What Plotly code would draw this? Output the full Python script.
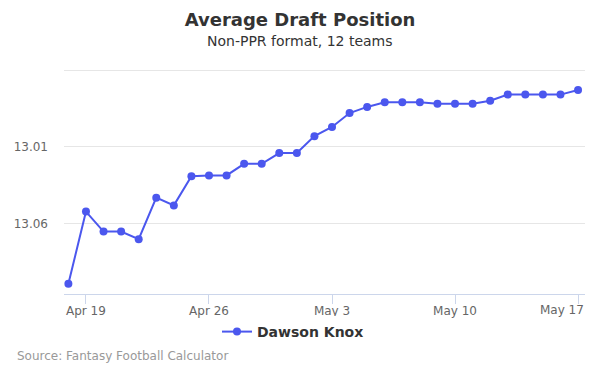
import plotly.graph_objects as go

dates = ["2019-04-18", "2019-04-19", "2019-04-20", "2019-04-21", "2019-04-22", "2019-04-23",
         "2019-04-24", "2019-04-25", "2019-04-26", "2019-04-27", "2019-04-28", "2019-04-29",
         "2019-04-30", "2019-05-01", "2019-05-02", "2019-05-03", "2019-05-04", "2019-05-05",
         "2019-05-06", "2019-05-07", "2019-05-08", "2019-05-09", "2019-05-10", "2019-05-11",
         "2019-05-12", "2019-05-13", "2019-05-14", "2019-05-15", "2019-05-16", "2019-05-17"]
adp = [13.099, 13.052, 13.065, 13.065, 13.070, 13.043,
       13.048, 13.029, 13.0285, 13.0285, 13.021, 13.021,
       13.014, 13.014, 13.003, 12.997, 12.988, 12.984,
       12.981, 12.981, 12.981, 12.982, 12.982, 12.982,
       12.980, 12.976, 12.976, 12.976, 12.976, 12.973]
player = "Dawson Knox"
y_tick_vals = [12.96, 13.01, 13.06]
y_tick_text = ["", "13.01", "13.06"]
x_tick_vals = ["2019-04-19", "2019-04-26", "2019-05-03", "2019-05-10", "2019-05-17"]
x_tick_text = ["Apr 19", "Apr 26", "May 3", "May 10", "May 17"]

color = "#4b57ee"
font = "DejaVu Sans"

L, R, T, B = 64, 15, 68, 81
PW, PH = 600 - L - R, 375 - T - B


def px_x(px):
    return (px - L) / PW


def px_y(py):
    return (375 - B - py) / PH


# last tick label is drawn as an annotation so it can be pulled inside the edge
shown_ticktext = x_tick_text[:-1] + [""]

fig = go.Figure()
fig.add_trace(go.Scatter(
    x=dates, y=adp, mode="lines+markers", name="<b>" + player + "</b>",
    line=dict(color=color, width=2),
    marker=dict(color=color, size=8),
))

fig.update_layout(
    width=600, height=375,
    margin=dict(l=L, r=R, t=T, b=B, autoexpand=False),
    paper_bgcolor="white", plot_bgcolor="white",
    font=dict(family=font, color="#666666", size=12),
    title=dict(text="<b>Average Draft Position</b>", x=0.5, xanchor="center",
               y=1 - 20 / 375, yanchor="middle", yref="container",
               font=dict(size=18, color="#333333", family=font)),
    showlegend=True,
    legend=dict(orientation="h", x=px_x(293), xanchor="center", y=px_y(332), yanchor="middle",
                font=dict(size=14, color="#333333", family=font)),
    xaxis=dict(
        type="date", automargin=False,
        range=["2019-04-17 18:00", "2019-05-17 09:30"],
        tickvals=x_tick_vals, ticktext=shown_ticktext,
        showgrid=False, zeroline=False,
        showline=True, linecolor="#ccd6eb", linewidth=1,
        ticks="outside", ticklen=9, tickcolor="#ccd6eb",
        ticklabelstandoff=-3,
        tickfont=dict(size=12, color="#666666"),
    ),
    yaxis=dict(
        range=[13.1056, 12.9587], automargin=False,
        tickvals=y_tick_vals, ticktext=y_tick_text,
        showgrid=True, gridcolor="#e6e6e6", gridwidth=1,
        zeroline=False, showline=False, ticks="",
        ticklabelstandoff=15,
        tickfont=dict(size=12, color="#666666"),
    ),
    annotations=[
        dict(text="Non-PPR format, 12 teams", x=px_x(300), xref="paper", xanchor="center",
             y=px_y(41), yref="paper", yanchor="middle", showarrow=False,
             font=dict(size=14, color="#333333", family=font)),
        dict(text="Source: Fantasy Football Calculator", x=px_x(15), xref="paper",
             xanchor="left", y=px_y(356), yref="paper", yanchor="middle",
             showarrow=False, font=dict(size=12, color="#999999", family=font)),
        dict(text=x_tick_text[-1], x=px_x(586), xref="paper", xanchor="right",
             y=px_y(310), yref="paper", yanchor="middle", showarrow=False,
             font=dict(size=12, color="#666666", family=font)),
    ],
)
fig.write_html("out.html", config={"displayModeBar": False},
               post_script="document.body.style.margin='0px';")
